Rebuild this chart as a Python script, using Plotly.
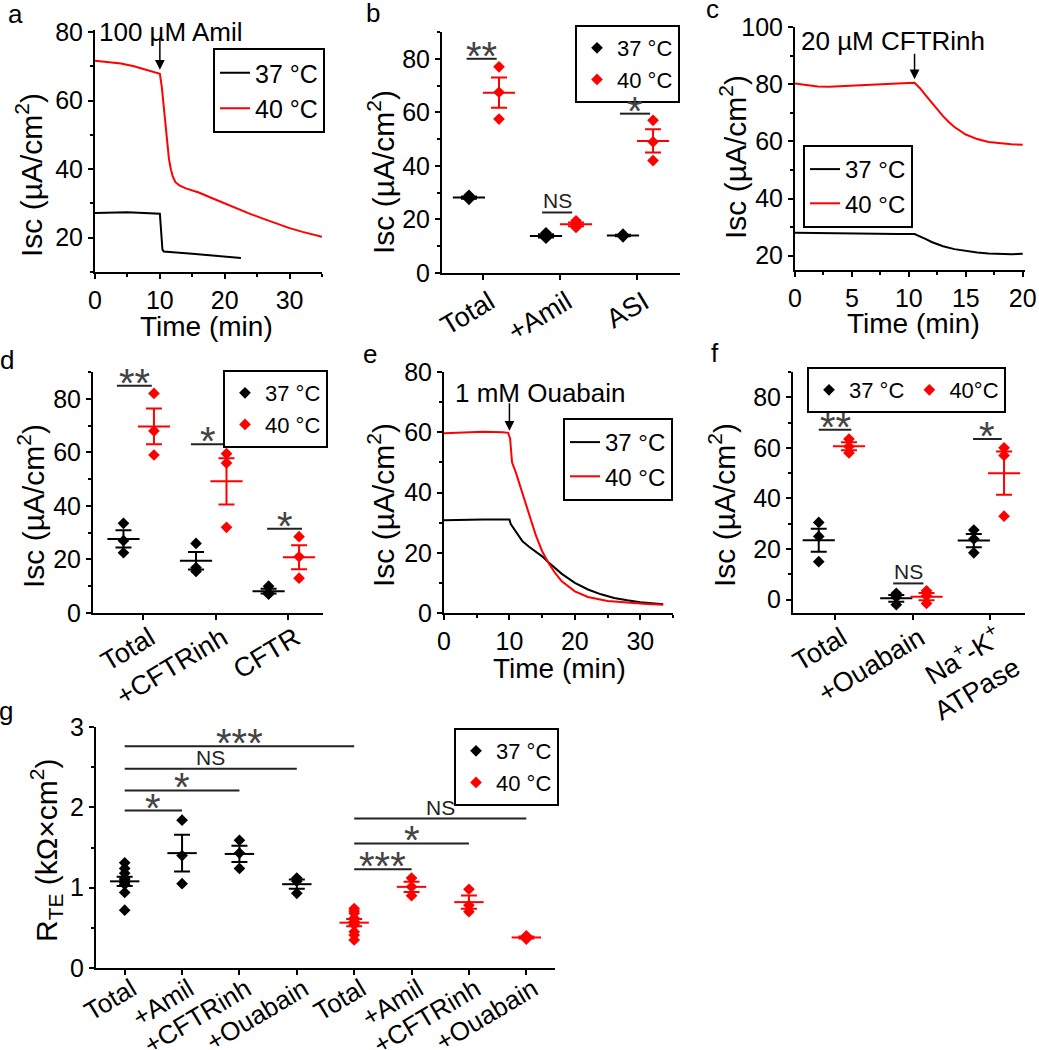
import numpy as np
import plotly.graph_objects as go

W, H = 1039, 1050
FONT = "Liberation Sans, Arial, sans-serif"
BLACK = "black"
RED = "#ff0000"

def fx(p):
    return p / W

def fy(p):
    return 1 - p / H

# ---------------- data ----------------
# panel a : Amiloride time course
a_t37 = [0, 5, 10, 10.1, 10.4, 10.6, 11, 13, 15, 18, 20, 22.5]
a_v37 = [27.2, 27.4, 27.0, 24.0, 16.5, 16.0, 15.9, 15.6, 15.3, 14.8, 14.5, 14.1]
a_t40 = [0, 2, 4, 6, 8, 10, 10.3, 10.5, 10.8, 11.1, 11.4, 11.7, 12.0, 12.4, 13, 14, 16, 18, 20, 22, 24, 26, 28, 30, 32, 34, 35]
a_v40 = [71.6, 71.3, 70.8, 70.0, 69.0, 67.8, 64, 60, 53, 47, 43, 40, 37.8, 36.2, 35.3, 34.4, 33.2, 31.6, 30.0, 28.4, 26.9, 25.5, 24.1, 22.8, 21.7, 20.7, 20.3]

# panel b
b_cats = ["Total", "+Amil", "ASI"]
b_37 = [[29.0, 28.0, 27.5], [15.0, 13.5, 13.0], [14.5, 14.0, 13.5]]
b_40 = [[77.0, 67.5, 57.5], [19.5, 18.0, 17.0], [57.0, 49.0, 42.0]]
b_sig = [("**", 0.79, 1.18, 80.0), ("NS", 1.77, 2.16, 22.6), ("*", 2.78, 3.17, 59.5)]

# panel c : CFTRinh time course
c_t37 = [0, 3, 6, 9, 10.5, 11, 11.5, 12, 12.5, 13, 14, 15, 16, 17, 18, 19, 20]
c_v37 = [28.0, 27.8, 27.6, 27.6, 27.6, 26.8, 25.8, 24.8, 24.0, 23.3, 22.3, 21.6, 21.1, 20.8, 20.6, 20.5, 20.7]
c_t40 = [0, 1, 2, 3, 5, 7, 9, 10.5, 11, 11.5, 12, 12.5, 13, 13.5, 14, 15, 16, 17, 18, 19, 20]
c_v40 = [80.2, 79.6, 79.2, 79.1, 79.4, 79.8, 80.2, 80.5, 78.5, 76.0, 73.5, 71.0, 68.8, 66.8, 65.0, 62.4, 60.8, 59.8, 59.3, 59.0, 58.8]

# panel d
d_cats = ["Total", "+CFTRinh", "CFTR"]
d_37 = [[33.5, 27.0, 22.5], [26.0, 17.0, 15.5], [10.0, 7.5, 7.0]]
d_40 = [[82.0, 68.0, 59.0], [59.5, 56.0, 32.0], [28.5, 21.0, 13.0]]
d_sig = [("**", 0.64, 1.12, 84.9), ("*", 1.66, 2.14, 63.0), ("*", 2.71, 3.19, 31.5)]

# panel e : Ouabain time course
e_t37 = [0, 3, 6, 9, 10, 10.2, 10.5, 11, 12, 13, 14, 15, 16, 18, 20, 22, 24, 26, 28, 30, 33.5]
e_v37 = [30.8, 31.0, 31.0, 31.0, 31.0, 29.5, 28.5, 26.8, 23.8, 22.0, 20.4, 18.8, 16.8, 13.0, 10.0, 7.8, 6.2, 5.0, 4.2, 3.6, 2.9]
e_t40 = [0, 3, 6, 9, 9.8, 10.1, 10.4, 11, 12, 13, 14, 15, 16, 17, 18, 20, 22, 25, 28, 31, 33.5]
e_v40 = [59.7, 60.0, 60.2, 60.0, 59.8, 58.0, 50.0, 46.5, 39.5, 32.5, 26.0, 20.5, 16.5, 13.2, 10.5, 7.2, 5.3, 4.0, 3.4, 3.0, 2.7]

# panel f
f_cats = ["Total", "+Ouabain", "Na<sup>+</sup>-K<sup>+</sup><br>ATPase"]
f_37 = [[30.5, 25.0, 15.0], [2.5, 1.0, -2.0], [27.5, 24.0, 18.5]]
f_40 = [[63.5, 60.5, 58.0], [3.5, 1.5, -1.5], [60.0, 57.0, 33.0]]
f_sig = [("**", 0.79, 1.21, 67.2), ("NS", 1.75, 2.14, 6.4), ("*", 2.78, 3.15, 63.5)]

# panel g
g_cats = ["Total", "+Amil", "+CFTRinh", "+Ouabain", "Total", "+Amil", "+CFTRinh", "+Ouabain"]
g_37 = [[1.31, 1.24, 1.18, 1.12, 1.10, 1.06, 1.04, 0.94, 0.72], [1.84, 1.40, 1.05], [1.59, 1.43, 1.24], [1.12, 1.08, 0.93]]
g_40 = [[0.74, 0.71, 0.68, 0.62, 0.58, 0.54, 0.45, 0.41, 0.35], [1.12, 1.01, 0.90], [0.98, 0.78, 0.70], [0.40, 0.38, 0.36]]
g_sig = [("***", 1, 5, 2.76), ("NS", 1, 4, 2.48), ("*", 1, 3, 2.21), ("*", 1, 2, 1.96),
         ("NS", 5, 8, 1.86), ("*", 5, 7, 1.55), ("***", 5, 6, 1.23)]

# ---------------- geometry (pixels) ----------------
geo = {
    1: (95, 322, 30, 272),
    2: (442, 680, 32, 273),
    3: (795, 1025, 27, 270),
    4: (93, 323, 372, 613),
    5: (444, 673, 372, 613),
    6: (793, 1025, 372, 613),
    7: (96, 555, 727, 968),
}

fig = go.Figure()
layout = dict(width=W, height=H, margin=dict(l=0, r=0, t=0, b=0, autoexpand=False),
              paper_bgcolor="white", plot_bgcolor="white",
              font=dict(family=FONT, size=25, color="black"),
              showlegend=True)

def axname(k, a):
    return a + ("" if k == 1 else str(k))

def base_axis():
    return dict(showline=True, linewidth=2, linecolor="black", ticks="outside",
                ticklen=5, tickwidth=2, tickcolor="black", showgrid=False,
                zeroline=False, automargin=False,
                tickfont=dict(size=25, family=FONT, color="black"))

axis_cfg = {
    1: (dict(range=[0, 35], dtick=10, minor=5), dict(range=[10, 80.6], tickvals=[20, 40, 60, 80], minor=10)),
    2: (dict(range=[0.47, 3.56], cats=b_cats, so=-4, fs=27), dict(range=[0, 90], dtick=20, minor=10)),
    3: (dict(range=[0, 20.2], dtick=5, minor=2.5), dict(range=[15, 100], tickvals=[20, 40, 60, 80, 100], minor=10)),
    4: (dict(range=[0.31, 3.48], cats=d_cats, so=-8, fs=27), dict(range=[0, 90], dtick=20, minor=10)),
    5: (dict(range=[0, 35], dtick=10, minor=5), dict(range=[0, 80], dtick=20, minor=10)),
    6: (dict(range=[0.458, 3.45], cats=f_cats, so=-8, fs=27), dict(range=[-5.3, 90], tickvals=[0, 20, 40, 60, 80], minor=10)),
    7: (dict(range=[0.5, 8.5], cats=g_cats, so=-11, fs=26), dict(range=[0, 3], dtick=1, minor=0.5)),
}

for k, (x0, x1, yt, yb) in geo.items():
    xc, yc = axis_cfg[k]
    xa = base_axis()
    xa.update(domain=[fx(x0), fx(x1)], anchor=axname(k, "y"), range=xc["range"])
    if "cats" in xc:
        xa.update(tickvals=list(range(1, len(xc["cats"]) + 1)), ticktext=xc["cats"], tickangle=-31,
                  ticklabelstandoff=xc["so"], ticklabelshift=7,
                  tickfont=dict(size=xc["fs"], family=FONT, color="black"))
    else:
        xa.update(dtick=xc["dtick"], tick0=0,
                  minor=dict(dtick=xc["minor"], ticks="outside", ticklen=3, tickwidth=2, tickcolor="black"))
    ya = base_axis()
    ya.update(domain=[fy(yb), fy(yt)], anchor=axname(k, "x"), range=yc["range"],
              minor=dict(dtick=yc["minor"], tick0=0, ticks="outside", ticklen=3, tickwidth=2, tickcolor="black"))
    if "tickvals" in yc:
        ya.update(tickvals=yc["tickvals"])
    else:
        ya.update(dtick=yc["dtick"], tick0=0)
    layout["xaxis" + ("" if k == 1 else str(k))] = xa
    layout["yaxis" + ("" if k == 1 else str(k))] = ya

def legend_name(k):
    return "legend" if k == 1 else "legend%d" % k

def add_lines(k, t37, v37, t40, v40, names=("37 °C", "40 °C")):
    for t, v, c, n in ((t37, v37, BLACK, names[0]), (t40, v40, RED, names[1])):
        fig.add_trace(go.Scatter(x=t, y=v, mode="lines", line=dict(color=c, width=2),
                                 name=n, xaxis=axname(k, "x"), yaxis=axname(k, "y"),
                                 legend=legend_name(k), showlegend=True))

def add_points(k, g37, g40, off37, off40, names=("37 °C", "40 °C"), mean_size=23):
    for gi, (groups, off, c, n) in enumerate(((g37, off37, BLACK, names[0]), (g40, off40, RED, names[1]))):
        start = 1 if gi == 0 or off37 != off40 else len(g37) + 1
        xs, ys = [], []
        means, sems, mx = [], [], []
        for i, grp in enumerate(groups):
            pos = start + i + off
            xs += [pos] * len(grp)
            ys += list(grp)
            arr = np.array(grp, dtype=float)
            means.append(arr.mean())
            sems.append(arr.std(ddof=1) / np.sqrt(len(arr)))
            mx.append(pos)
        fig.add_trace(go.Scatter(x=mx, y=means, mode="markers",
                                 marker=dict(symbol="line-ew-open", size=mean_size, color=c,
                                             line=dict(color=c, width=2)),
                                 error_y=dict(type="data", array=sems, width=8, thickness=2, color=c),
                                 xaxis=axname(k, "x"), yaxis=axname(k, "y"), showlegend=False,
                                 hoverinfo="skip"))
        fig.add_trace(go.Scatter(x=xs, y=ys, mode="markers", name=n,
                                 marker=dict(symbol="diamond", size=9, color=c),
                                 xaxis=axname(k, "x"), yaxis=axname(k, "y"),
                                 legend=legend_name(k), showlegend=True))

add_lines(1, a_t37, a_v37, a_t40, a_v40)
add_points(2, b_37, b_40, -0.18, 0.21)
add_lines(3, c_t37, c_v37, c_t40, c_v40)
add_points(4, d_37, d_40, -0.27, 0.15)
add_lines(5, e_t37, e_v37, e_t40, e_v40)
add_points(6, f_37, f_40, -0.21, 0.18, names=("37 °C", "40°C"))
add_points(7, g_37, g_40, 0.0, 0.0, mean_size=21)

shapes = []
annotations = []

def add_sig(k, sigs):
    for text, x0, x1, y in sigs:
        shapes.append(dict(type="line", xref=axname(k, "x"), yref=axname(k, "y"),
                           x0=x0, x1=x1, y0=y, y1=y, line=dict(color="#222", width=2)))
        if text == "NS":
            annotations.append(dict(text=text, x=(x0 + x1) / 2, y=y, xref=axname(k, "x"), yref=axname(k, "y"),
                                    showarrow=False, yanchor="bottom", yshift=-2,
                                    font=dict(size=21, color="#222", family=FONT)))
        else:
            annotations.append(dict(text=text, x=(x0 + x1) / 2, y=y, xref=axname(k, "x"), yref=axname(k, "y"),
                                    showarrow=False, yanchor="bottom", yshift=-21,
                                    font=dict(size=40, color="#444", family=FONT)))

add_sig(2, b_sig)
add_sig(4, d_sig)
add_sig(6, f_sig)
add_sig(7, g_sig)

# arrows and drug labels
def drug(k, text, tx, ty, ax_t, ay_v, ay_px):
    annotations.append(dict(text=text, x=tx, y=ty, xref=axname(k, "x"), yref=axname(k, "y"),
                            showarrow=False, xanchor="center", yanchor="middle",
                            font=dict(size=26, family=FONT)))
    annotations.append(dict(text="", x=ax_t, y=ay_v, xref=axname(k, "x"), yref=axname(k, "y"),
                            showarrow=True, ax=0, ay=ay_px, arrowhead=2, arrowsize=1.3,
                            arrowwidth=1.5, arrowcolor="black"))

drug(1, "100 µM Amil", 11.7, 80.0, 10.0, 69.0, -33)
drug(3, "20 µM CFTRinh", 8.6, 95.0, 10.5, 81.7, -27)
drug(5, "1 mM Ouabain", 14.7, 73.0, 10.0, 60.5, -29)

# axis titles
ISC = "Isc (µA/cm<sup>2</sup>)"
for text, x, y in ((ISC, 29, 175), (ISC, 381, 172), (ISC, 733, 157),
                   (ISC, 31, 506), (ISC, 381, 505), (ISC, 722, 505),
                   ("R<sub>TE</sub> (kΩ×cm<sup>2</sup>)", 46, 851)):
    annotations.append(dict(text=text, x=fx(x), y=fy(y), xref="paper", yref="paper",
                            showarrow=False, textangle=-90, xanchor="center", yanchor="middle",
                            font=dict(size=30, family=FONT)))
for x, y in ((206, 326), (913, 323), (559, 668)):
    annotations.append(dict(text="Time (min)", x=fx(x), y=fy(y), xref="paper", yref="paper",
                            showarrow=False, xanchor="center", yanchor="middle",
                            font=dict(size=28, family=FONT)))

# panel letters
for t, x, y in (("a", 15, 14), ("b", 373, 13), ("c", 712, 9), ("d", 7, 360),
                ("e", 370, 354), ("f", 715, 353), ("g", 6, 711)):
    annotations.append(dict(text=t, x=fx(x), y=fy(y), xref="paper", yref="paper",
                            showarrow=False, xanchor="center", yanchor="middle",
                            font=dict(size=26, family=FONT)))

# legends
leg_pos = {1: (213, 48, "v", 25), 2: (575, 25, "v", 22), 3: (803, 145, "v", 24), 4: (223, 370, "v", 22),
           5: (563, 418, "v", 24), 6: (807, 367, "h", 22), 7: (454, 728, "v", 22)}
for k, (x, y, o, fs) in leg_pos.items():
    layout[legend_name(k)] = dict(x=fx(x), y=fy(y), xanchor="left", yanchor="top",
                                  bordercolor="black", borderwidth=2, bgcolor="white",
                                  orientation=o, font=dict(size=fs, family=FONT),
                                  itemwidth=30, tracegroupgap=0)

layout["shapes"] = shapes
layout["annotations"] = annotations
fig.update_layout(**layout)

fig.write_html("out.html", config={"displayModeBar": False},
               post_script="document.body.style.margin='0';document.body.style.overflow='hidden';")
